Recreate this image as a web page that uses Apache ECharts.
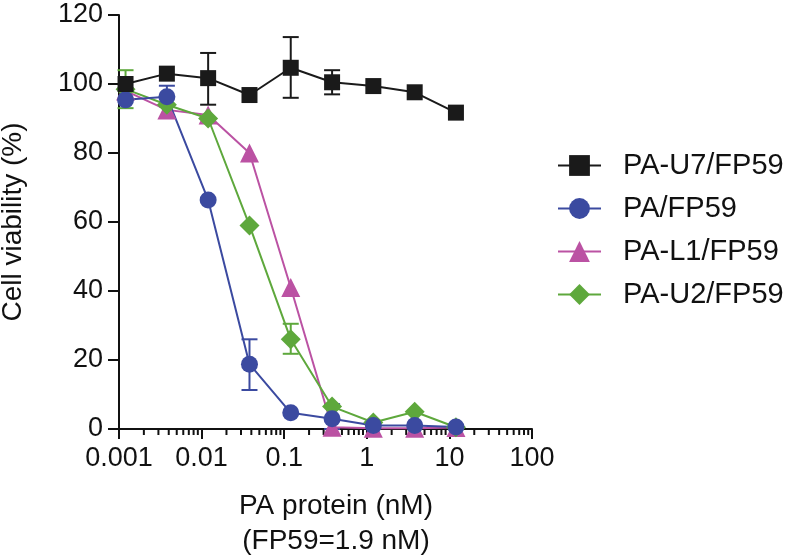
<!DOCTYPE html>
<html>
<head>
<meta charset="utf-8">
<script src="https://cdn.jsdelivr.net/npm/echarts@6/dist/echarts.min.js"></script>
<style>html,body{margin:0;padding:0;background:#fff}#c{width:796px;height:555px}</style>
</head>
<body>
<div id="c"></div>
<script>
// ---- data ----
var concentrations = [0.0012, 0.0038, 0.012, 0.038, 0.12, 0.38, 1.2, 3.8, 12];
var seriesNames = ['PA-U7/FP59', 'PA/FP59', 'PA-L1/FP59', 'PA-U2/FP59'];
var valuesU7 = [100, 103, 101.7, 96.8, 104.7, 100.5, 99.4, 97.6, 91.7];
var valuesPA = [95.4, 96.3, 66.4, 18.8, 4.7, 3.0, 1.0, 1.0, 0.6];
var valuesL1 = [98, 92.5, 91, 80, 41, 0.5, 0.2, 0.2, 0.4];
var valuesU2 = [98.5, 94, 90, 59, 26, 6.5, 1.9, 5.0, 0.5];
// error bars: [concentration index, low, high]
var errU7 = [[2, 94, 109], [4, 96, 113.6], [5, 97, 104]];
var errPA = [[1, 93.5, 99.5], [3, 11.3, 26], [5, 0, 7.2]];
var errL1 = [];
var errU2 = [[0, 93, 104], [4, 21.8, 30.5]];
var xTickLabels = ['0.001', '0.01', '0.1', '1', '10', '100'];
var yTickLabels = ['0', '20', '40', '60', '80', '100', '120'];
var decades = [0.001, 0.01, 0.1, 1, 10];
var minorMultipliers = [2, 3, 4, 5, 6, 7, 8, 9];

var colors = {U7: '#1a1a1a', PA: '#3b4aa0', L1: '#bb52a3', U2: '#5ea83c'};
var FONT = 'Liberation Sans, Arial, Helvetica, sans-serif';

function pairs(vals) {
  return concentrations.map(function (x, i) { return [x, vals[i]]; });
}
function errData(err) {
  return err.map(function (e) { return [concentrations[e[0]], e[1], e[2]]; });
}
var minorTicks = [];
decades.forEach(function (d) {
  minorMultipliers.forEach(function (m) { minorTicks.push([d * m, 0]); });
});

function errorSeries(err, color) {
  return {
    type: 'custom',
    data: errData(err),
    z: 1,
    silent: true,
    clip: false,
    encode: {x: 0, y: [1, 2]},
    renderItem: function (params, api) {
      var x = api.value(0);
      var lo = api.coord([x, api.value(1)]);
      var hi = api.coord([x, api.value(2)]);
      var hw = 8;
      var st = {stroke: color, lineWidth: 2};
      return {
        type: 'group',
        children: [
          {type: 'line', shape: {x1: lo[0], y1: lo[1], x2: hi[0], y2: hi[1]}, style: st},
          {type: 'line', shape: {x1: lo[0] - hw, y1: lo[1], x2: lo[0] + hw, y2: lo[1]}, style: st},
          {type: 'line', shape: {x1: hi[0] - hw, y1: hi[1], x2: hi[0] + hw, y2: hi[1]}, style: st}
        ]
      };
    }
  };
}

function lineSeries(name, vals, color, symbol, size) {
  return {
    name: name,
    type: 'line',
    data: pairs(vals),
    symbol: symbol,
    symbolSize: size,
    showAllSymbol: true,
    z: 3,
    itemStyle: {color: color, opacity: 1},
    lineStyle: {color: color, width: 2},
    emphasis: {disabled: true},
    animation: false
  };
}

var chart = echarts.init(document.getElementById('c'), null, {renderer: 'canvas'});
chart.setOption({
  animation: false,
  backgroundColor: '#fff',
  textStyle: {fontFamily: FONT},
  grid: {left: 119, right: 264, top: 15, bottom: 126, containLabel: false, outerBoundsMode: 'none'},
  xAxis: {
    type: 'log',
    logBase: 10,
    min: 0.001,
    max: 100,
    axisLine: {show: true, lineStyle: {color: '#111', width: 2}},
    axisTick: {show: true, length: 10, lineStyle: {color: '#111', width: 2}},
    minorTick: {show: false},
    splitLine: {show: false},
    axisLabel: {
      color: '#111', fontSize: 27, fontFamily: FONT, margin: 16,
      formatter: function (v, i) { return xTickLabels[i] !== undefined ? xTickLabels[i] : ''; }
    }
  },
  yAxis: {
    type: 'value',
    min: 0,
    max: 120,
    interval: 20,
    name: 'Cell viability (%)',
    nameLocation: 'middle',
    nameGap: 92,
    nameTextStyle: {color: '#111', fontSize: 28, fontFamily: FONT},
    axisLine: {show: true, lineStyle: {color: '#111', width: 2}},
    axisTick: {show: true, length: 11, lineStyle: {color: '#111', width: 2}},
    splitLine: {show: false},
    axisLabel: {
      color: '#111', fontSize: 27, fontFamily: FONT, margin: 16,
      formatter: function (v, i) { return yTickLabels[i] !== undefined ? yTickLabels[i] : ''; }
    }
  },
  legend: {
    orient: 'vertical',
    left: 552,
    top: 146,
    data: seriesNames,
    itemWidth: 43,
    itemHeight: 26,
    itemGap: 14,
    selectedMode: false,
    textStyle: {color: '#111', fontSize: 29, fontFamily: FONT, padding: [0, 0, 0, 17]}
  },
  graphic: [{
    type: 'text',
    x: 336,
    y: 489,
    silent: true,
    style: {
      text: 'PA protein (nM)\n(FP59=1.9 nM)',
      fontSize: 28,
      fontFamily: FONT,
      fill: '#111',
      align: 'center',
      verticalAlign: 'top',
      lineHeight: 35
    }
  }],
  series: [
    {
      type: 'custom',
      data: minorTicks,
      silent: true,
      clip: false,
      z: 1,
      renderItem: function (params, api) {
        var p = api.coord([api.value(0), 0]);
        return {type: 'line', shape: {x1: p[0], y1: p[1], x2: p[0], y2: p[1] + 6}, style: {stroke: '#111', lineWidth: 2}};
      }
    },
    errorSeries(errL1, colors.L1),
    errorSeries(errU2, colors.U2),
    errorSeries(errPA, colors.PA),
    errorSeries(errU7, colors.U7),
    lineSeries('PA-L1/FP59', valuesL1, colors.L1, 'triangle', 19),
    lineSeries('PA-U2/FP59', valuesU2, colors.U2, 'diamond', 20),
    lineSeries('PA/FP59', valuesPA, colors.PA, 'circle', 17),
    lineSeries('PA-U7/FP59', valuesU7, colors.U7, 'rect', 16)
  ]
});
</script>
</body>
</html>
